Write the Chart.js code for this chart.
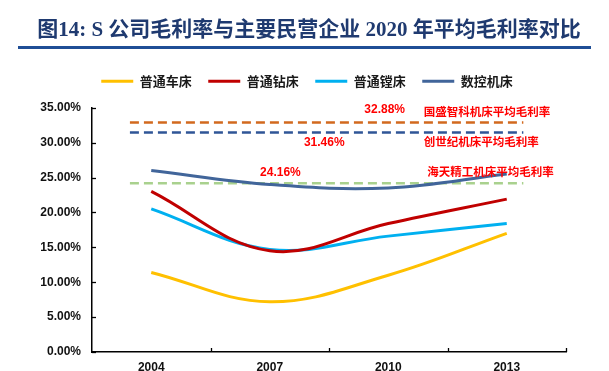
<!DOCTYPE html>
<html>
<head>
<meta charset="utf-8">
<script src="https://cdn.jsdelivr.net/npm/chart.js@4/dist/chart.umd.min.js"></script>
<style>
html,body{margin:0;padding:0;background:#fff;}
#wrap{width:609px;height:371px;position:relative;}
</style>
</head>
<body>
<div id="wrap"><canvas id="c" width="609" height="371"></canvas></div>
<script>
// ---- data ----
const years = ['2004', '2007', '2010', '2013'];
const seriesNames = ['普通车床', '普通钻床', '普通镗床', '数控机床'];
const lathe  = [11.4, 7.2, 11.0, 17.0];   // 普通车床
const drill  = [23.0, 14.5, 18.4, 21.9];  // 普通钻床
const boring = [20.5, 14.7, 16.6, 18.4];  // 普通镗床
const cnc    = [26.0, 24.0, 23.5, 25.5];  // 数控机床
const refNames = ['国盛智科机床平均毛利率', '创世纪机床平均毛利率', '海天精工机床平均毛利率'];
const refValues = [32.88, 31.46, 24.16];
const yTicks = [0, 5, 10, 15, 20, 25, 30, 35];

const lineColors = ['#FFC000', '#C00000', '#00B0F0', '#41659A'];
const refColors = ['#D2691E', '#2F5597', '#A9D18E'];
const refSpan = [-0.18, 3.14];

const mainSets = [lathe, drill, boring, cnc].map((d, i) => ({
  label: seriesNames[i], data: d, borderColor: lineColors[i], backgroundColor: lineColors[i],
  borderWidth: 3, pointRadius: 0, tension: 0.38, xAxisID: 'x', fill: false
}));
const refSets = refValues.map((v, i) => ({
  label: refNames[i], data: refSpan.map(x => ({x: x, y: v})), borderColor: refColors[i],
  backgroundColor: refColors[i], borderWidth: 2.5, borderDash: [9, 5], pointRadius: 0,
  xAxisID: 'x2', fill: false, isRef: true
}));

// label placement (x in category units, dy in px)
const refLabelPos = [
  {valX: 1.97, valDy: -13, nameX: 2.30, nameDy: -11},
  {valX: 1.46, valDy: 10, nameX: 2.30, nameDy: 9},
  {valX: 1.09, valDy: -11, nameX: 2.33, nameDy: -12}
];

const decor = {
  id: 'decor',
  beforeLayout(chart) {
    const lg = chart.legend;
    if (lg && !lg._patched) {
      const f = lg.fit;
      lg.fit = function () { f.call(this); this.height += 10; };
      lg._patched = true;
    }
  },
  afterLayout(chart) {
    const lg = chart.legend;
    if (lg) { lg.left += 24; lg.right += 24; }
    const tb = chart.titleBlock;
    if (tb) { tb.left += 26; tb.right += 26; }
  },
  beforeDatasetsDraw(chart) {
    const ctx = chart.ctx, ys = chart.scales.y;
    const ca = chart.chartArea;
    ctx.save();
    ctx.strokeStyle = '#000'; ctx.lineWidth = 1.3;
    // inward tick marks
    yTicks.forEach(t => {
      const y = Math.round(ys.getPixelForValue(t)) + 0.5;
      ctx.beginPath(); ctx.moveTo(ca.left, y); ctx.lineTo(ca.left + 4, y); ctx.stroke();
    });
    const w = (ca.right - ca.left) / years.length;
    for (let i = 1; i <= years.length; i++) {
      const x = Math.round(ca.left + i * w) + 0.5;
      ctx.beginPath(); ctx.moveTo(x, ca.bottom); ctx.lineTo(x, ca.bottom - 4); ctx.stroke();
    }
    ctx.restore();
  },
  afterDraw(chart) {
    const ctx = chart.ctx, x2 = chart.scales.x2, ys = chart.scales.y;
    ctx.save();
    // title rule
    ctx.fillStyle = '#1F4E96';
    ctx.fillRect(18, 46, 573, 3);
    // reference labels
    ctx.fillStyle = '#FF0000';
    ctx.textBaseline = 'middle';
    refValues.forEach((v, i) => {
      const p = refLabelPos[i];
      const y = ys.getPixelForValue(v);
      ctx.font = 'bold 12px "Liberation Sans", "Noto Sans CJK SC"';
      ctx.textAlign = 'center';
      ctx.fillText(v.toFixed(2) + '%', x2.getPixelForValue(p.valX), y + p.valDy);
      ctx.font = 'bold 11.5px "Noto Sans CJK SC"';
      ctx.textAlign = 'left';
      ctx.fillText(refNames[i], x2.getPixelForValue(p.nameX), y + p.nameDy);
    });
    ctx.restore();
  }
};

new Chart(document.getElementById('c'), {
  type: 'line',
  data: { labels: years, datasets: mainSets.concat(refSets) },
  options: {
    responsive: false,
    animation: false,
    layout: { padding: { left: 0, right: 43, top: 0, bottom: 0 } },
    plugins: {
      title: {
        display: true,
        text: '图14: S 公司毛利率与主要民营企业 2020 年平均毛利率对比',
        color: '#1F3A70',
        font: { family: '"Liberation Serif", "Noto Sans CJK SC"', size: 21, weight: 'bold' },
        padding: { top: 18, bottom: 15 }
      },
      legend: {
        display: true,
        position: 'top',
        labels: {
          filter: (item, data) => !data.datasets[item.datasetIndex].isRef,
          usePointStyle: true,
          pointStyle: 'line',
          pointStyleWidth: 32,
          padding: 16.5,
          color: '#1a1a1a',
          font: { family: '"Noto Sans CJK SC"', size: 13, weight: 'bold' }
        }
      },
      tooltip: { enabled: false }
    },
    scales: {
      x: {
        type: 'category',
        offset: true,
        grid: { display: false, drawTicks: false },
        border: { display: true, color: '#000', width: 1.5 },
        ticks: { color: '#111', padding: 8, font: { family: '"Liberation Sans"', size: 12, weight: 'bold' } },
        afterFit: s => { s.height = 19; }
      },
      x2: {
        type: 'linear', display: false, min: -0.5, max: 3.5
      },
      y: {
        min: 0, max: 35,
        ticks: {
          stepSize: 5, padding: 11, color: '#111',
          font: { family: '"Liberation Sans"', size: 12, weight: 'bold' },
          callback: v => v.toFixed(2) + '%'
        },
        grid: { display: false, drawTicks: false },
        border: { display: true, color: '#000', width: 1.5 },
        afterFit: s => { s.width = 92; }
      }
    }
  },
  plugins: [decor]
});
</script>
</body>
</html>
